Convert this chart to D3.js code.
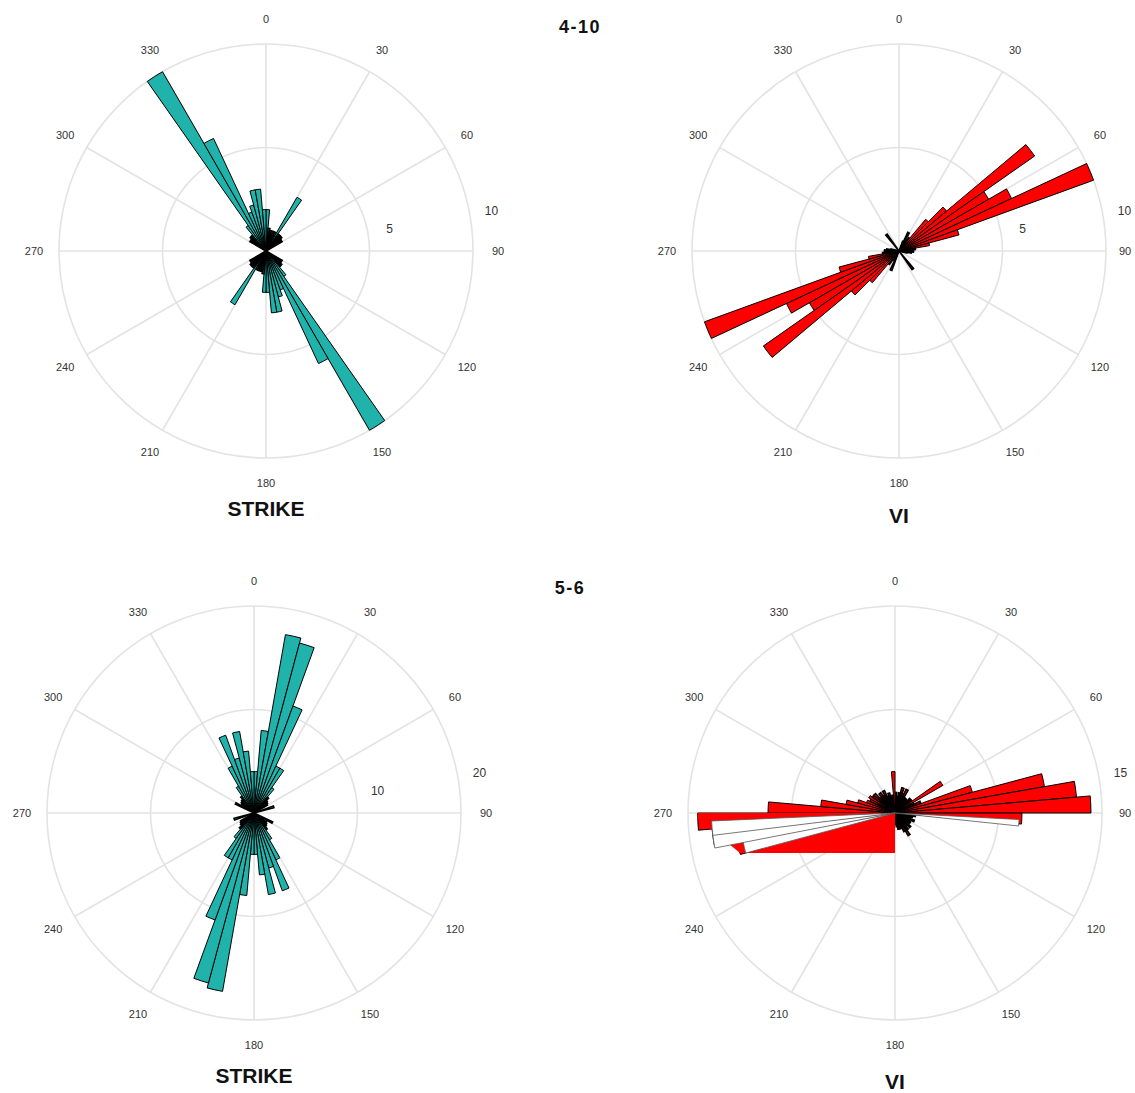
<!DOCTYPE html>
<html>
<head>
<meta charset="utf-8">
<script src="https://cdn.jsdelivr.net/npm/d3@7/dist/d3.min.js"></script>
<style>
  html, body { margin: 0; padding: 0; background: #fff; }
  svg { display: block; }
</style>
</head>
<body>
<svg id="chart" width="1135" height="1093"></svg>
<script>
// ---------------- DATA ----------------
// 5-degree bins, start angles 0,5,...,355 (compass degrees, clockwise from north)
const binStarts = d3.range(0, 360, 5);
const angleTicks = [0, 30, 60, 90, 120, 150, 180, 210, 240, 270, 300, 330];

// Period 4-10, STRIKE (max 10)
const strike410 = [
  2, 1.1, 1, 1, 1, 1, 3, 1, 1, 1, 0.9, 0.9,
  0, 0, 0, 0, 0, 0, 0, 0, 0, 0, 0, 0,
  0.9, 0.9, 1, 1, 1.5, 10, 6, 2, 2.3, 3, 3, 2,
  2, 1.1, 1, 1, 1, 1, 3, 1, 1, 1, 0.9, 0.9,
  0, 0, 0, 0, 0, 0, 0, 0, 0, 0, 0, 0,
  0.9, 0.9, 1, 1, 1.5, 10, 6, 2, 2.3, 3, 3, 2
];
const strike410Rings = [5, 10];

// Period 4-10, VI (max 10)
const vi410 = [
  0, 0, 0, 0, 0.5, 1, 0.5, 0.8, 2, 3, 8, 5,
  6, 10, 3, 1.5, 0.8, 0.7, 0.7, 0.6, 0.4, 0, 0, 0,
  0, 0, 0, 0, 1.1, 0, 0, 0, 0, 0, 0, 0,
  0, 0, 0, 0, 1, 0.5, 0.5, 0.8, 2, 3, 8, 5,
  6, 10, 3, 1.5, 0.8, 0.7, 0.7, 0.6, 0.4, 0, 0, 0,
  0, 0, 0, 0, 1, 0, 0, 0, 0, 0, 0, 0
];
const vi410Rings = [5, 10];

// Period 5-6, STRIKE (max 20)
const strike56 = [
  4, 8, 17.5, 17, 11, 5, 5, 3, 2, 1.7, 1.6, 1.5,
  0, 0, 2, 0, 0, 0, 0, 0, 0, 0, 0, 2,
  0, 1.5, 1.6, 1.7, 2, 3, 5, 8, 5.5, 8, 6, 4,
  4, 8, 17.5, 17, 11, 5, 5, 3, 2, 1.7, 1.6, 1.5,
  0, 0, 2, 0, 0, 0, 0, 0, 0, 0, 0, 2,
  0, 1.5, 1.6, 1.7, 2, 3, 5, 8, 5.5, 8, 6, 4
];
const strike56Rings = [10, 20];

// Period 5-6, VI (max 15)
const vi56 = [
  1.5, 1.2, 1.5, 1.9, 1.5, 1.9, 1.3, 1.3, 1.2, 1.5, 1.5, 4,
  1.5, 2, 5.8, 11, 13.2, 14.2, 9.2, 1.5, 1.3, 1.2, 1.5, 1.2,
  1.3, 1.2, 1.5, 1.2, 1.5, 1.9, 1.5, 1.2, 1.2, 1.2, 1, 0.8,
  0.8, 1, 1.2, 1.2, 1.2, 1.3, 1.5, 1.3, 1.2, 1.3, 1.5, 1.5,
  2, 2, 4, 11.6, 13.3, 14.3, 9.2, 5.4, 3.6, 2.8, 2.2, 2,
  2.2, 2, 2, 1.5, 1.8, 1.5, 1.8, 1.3, 1.5, 1.2, 1.3, 3
];
const vi56Rings = [15];
// white (unfilled) bars of the 5-6 VI rose: start angle, width and value
const vi56WhiteStart = [93, 255, 259, 263];
const vi56WhiteWidth = [3, 4.5, 4.5, 4.5];
const vi56WhiteVals  = [9, 11.2, 13.3, 13.3];
// red filled polygon of the 5-6 VI rose: [angle, value] vertices
const vi56FillAngles = [0, 180, 255.5, 268.5, 270];
const vi56FillVals   = [0, 2.9, 11.6, 14.3, 14.3];

// ---------------- DRAW ----------------
const svg = d3.select("#chart");
const TEAL = "#1fb3ab", RED = "#ff0000";
const R = 207, BIN = 5;
const W = 1135;
const rad = d3.scaleLinear().domain([0, 360]).range([0, 2 * Math.PI]);

const panels = [
  { cx: 266, cy: 251, max: 10, rings: strike410Rings, vals: strike410, fill: TEAL, title: "STRIKE", tx: 266, ty: 516 },
  { cx: 899, cy: 251, max: 10, rings: vi410Rings, vals: vi410, fill: RED, title: "VI", tx: 899, ty: 523 },
  { cx: 254, cy: 813, max: 20, rings: strike56Rings, vals: strike56, fill: TEAL, title: "STRIKE", tx: 254, ty: 1083 },
  { cx: 895, cy: 813, max: 15, rings: vi56Rings, vals: vi56, fill: RED, title: "VI", tx: 895, ty: 1089, extra: true }
];

panels.forEach(p => {
  const g = svg.append("g").attr("transform", `translate(${p.cx},${p.cy})`);
  const r = d3.scaleLinear().domain([0, p.max]).range([0, R]);
  const ringVals = p.rings.length === 1 ? [p.rings[0] / 2, p.rings[0]] : p.rings;
  const clampX = x => Math.min(x, W - 10 - p.cx);

  // grid
  g.selectAll("circle.ring").data(ringVals).join("circle")
    .attr("r", d => r(d)).attr("fill", "none")
    .attr("stroke", "#e3e3e3").attr("stroke-width", 1.6);
  g.selectAll("line.spoke").data(angleTicks).join("line")
    .attr("x1", 0).attr("y1", 0)
    .attr("x2", d => R * Math.sin(rad(d))).attr("y2", d => -R * Math.cos(rad(d)))
    .attr("stroke", "#e3e3e3").attr("stroke-width", 1.6);

  // angle labels
  g.selectAll("text.ang").data(angleTicks).join("text")
    .attr("x", d => clampX(232 * Math.sin(rad(d))))
    .attr("y", d => -232 * Math.cos(rad(d)))
    .attr("text-anchor", "middle").attr("dominant-baseline", "central")
    .attr("font-family", "Liberation Sans, Arial, sans-serif")
    .attr("font-size", 11).attr("fill", "#333").text(d => d);

  // ring labels
  g.selectAll("text.ringlab").data(p.rings).join("text")
    .attr("x", d => clampX((r(d) + 22) * Math.sin(rad(80))))
    .attr("y", d => -(r(d) + 22) * Math.cos(rad(80)))
    .attr("text-anchor", "middle").attr("dominant-baseline", "central")
    .attr("font-family", "Liberation Sans, Arial, sans-serif")
    .attr("font-size", 12).attr("fill", "#333").text(d => d);

  // bars
  const arc = d3.arc()
    .innerRadius(0)
    .outerRadius(d => r(d.v))
    .startAngle(d => rad(d.a))
    .endAngle(d => rad(d.a + d.w));
  const bars = binStarts.map((a, i) => ({ a, w: BIN, v: p.vals[i] })).filter(d => d.v > 0);
  g.selectAll("path.bar").data(bars).join("path")
    .attr("d", arc)
    .attr("fill", p.fill)
    .attr("stroke", "#000")
    .attr("stroke-width", d => r(d.v) < 30 ? 1.5 : 1)
    .attr("stroke-linejoin", "miter");

  if (p.extra) {
    const pts = vi56FillAngles.map((a, i) => [rad(a), r(vi56FillVals[i])]);
    const poly = d3.lineRadial().angle(d => d[0]).radius(d => d[1]).curve(d3.curveLinearClosed);
    g.append("path").attr("d", poly(pts)).attr("fill", RED).attr("stroke", "none");
    const whites = vi56WhiteStart.map((a, i) => ({ a, w: vi56WhiteWidth[i], v: vi56WhiteVals[i] }));
    g.selectAll("path.white").data(whites).join("path")
      .attr("d", arc).attr("fill", "#fff")
      .attr("stroke", "#555").attr("stroke-width", 0.8);
  }

  // title
  svg.append("text").attr("x", p.tx).attr("y", p.ty)
    .attr("text-anchor", "middle")
    .attr("font-family", "Liberation Sans, Arial, sans-serif")
    .attr("font-weight", "bold").attr("font-size", 21).attr("fill", "#111")
    .text(p.title);
});

// period headings
const periods = ["4-10", "5-6"];
const periodPos = [[580, 33], [570, 594]];
periods.forEach((t, i) => {
  svg.append("text").attr("x", periodPos[i][0]).attr("y", periodPos[i][1])
    .attr("text-anchor", "middle")
    .attr("font-family", "Liberation Sans, Arial, sans-serif")
    .attr("font-weight", "bold").attr("font-size", 18).attr("letter-spacing", 1.5)
    .attr("fill", "#111").text(t);
});
</script>
</body>
</html>
